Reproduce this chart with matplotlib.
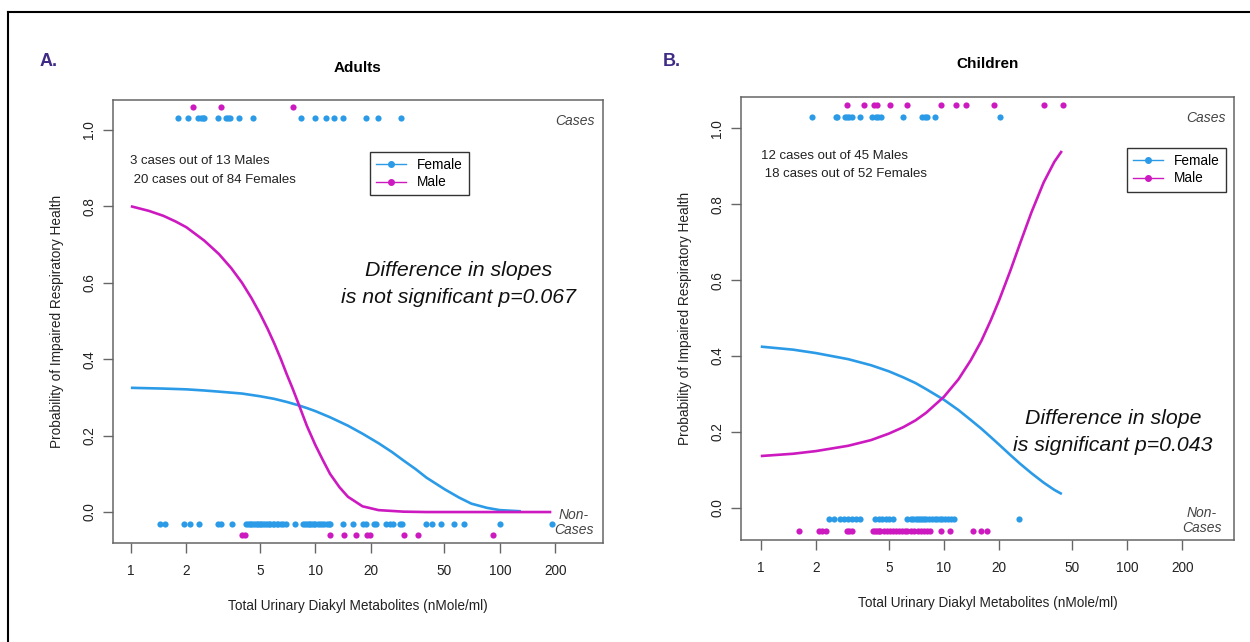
import matplotlib
matplotlib.use('Agg')
import matplotlib.pyplot as plt
from matplotlib.lines import Line2D

plt.rcParams['font.family'] = ['Liberation Sans', 'DejaVu Sans']

# colours
femaleColor = '#2b9be8'
maleColor = '#cc1ac0'
textColor = '#222222'
axisColor = '#666666'

# Adults - metabolite values of individual subjects
adultFemaleCases = [1.81, 2.03, 2.32, 2.40, 2.45, 2.50, 2.98, 3.28, 3.38, 3.45, 3.86, 4.58,
                    8.34, 9.98, 11.45, 12.65, 14.1, 18.8, 21.8, 29.2]
adultMaleCases = [2.18, 3.09, 7.55]
adultFemaleNon = [1.43, 1.53, 1.95, 2.08, 2.35, 2.95, 3.07, 3.53,
                  4.2, 4.3, 4.4, 4.5, 4.6, 4.7, 4.8, 4.9, 5.0, 5.1, 5.2, 5.3, 5.5, 5.6, 5.7, 5.9,
                  6.0, 6.2, 6.3, 6.5, 6.7, 6.9, 7.78,
                  8.6, 8.8, 9.0, 9.2, 9.4, 9.6, 9.8, 10.0, 10.3, 10.6, 10.9, 11.2, 11.5, 11.8, 12.0,
                  14.1, 15.9, 18.2, 18.8, 20.8, 21.4, 24.2, 25.4, 26.3, 28.6, 29.4,
                  39.8, 42.8, 47.9, 56.1, 63.5, 100.4, 191]
adultMaleNon = [4.0, 4.17, 12.0, 14.3, 16.6, 19.0, 19.8, 30.4, 35.8, 91.6]

# Adults - fitted probability curves
adultFemCurveX = [1, 1.5, 2, 2.5, 3, 4, 5, 6, 7, 8, 9, 10, 12, 15, 18, 22, 26, 30, 35, 40, 50, 60,
                  70, 85, 100, 130]
adultFemCurveY = [0.325, 0.323, 0.321, 0.318, 0.315, 0.31, 0.303, 0.296, 0.288, 0.28, 0.272, 0.264,
                  0.248, 0.226, 0.205, 0.18, 0.157, 0.135, 0.112, 0.09, 0.06, 0.038, 0.022,
                  0.011, 0.005, 0.002]
adultMaleCurveX = [1, 1.25, 1.5, 1.75, 2, 2.5, 3, 3.5, 4, 4.5, 5, 5.5, 6, 6.5, 7, 7.5, 8, 9, 10,
                   11, 12, 13.5, 15, 18, 22, 30, 40, 50, 70, 100, 130, 190]
adultMaleCurveY = [0.80, 0.788, 0.775, 0.76, 0.745, 0.71, 0.675, 0.638, 0.60, 0.56, 0.52, 0.48,
                   0.44, 0.40, 0.36, 0.325, 0.29, 0.225, 0.175, 0.135, 0.10, 0.065, 0.04, 0.015,
                   0.005, 0.001, 0, 0, 0, 0, 0, 0]

# Children - metabolite values of individual subjects
childFemaleCases = [1.90, 2.56, 2.62, 2.90, 2.97, 3.05, 3.16, 3.47, 4.03, 4.24, 4.38, 4.51,
                    5.94, 7.61, 7.83, 8.03, 8.91, 20.3]
childMaleCases = [2.97, 3.66, 4.15, 4.32, 5.05, 6.30, 9.69, 11.7, 13.2, 18.7, 35.0, 44.4]
childFemaleNon = [2.36, 2.51, 2.7, 2.85, 3.0, 3.15, 3.3, 3.5, 4.2, 4.4, 4.6, 4.8, 5.0, 5.3,
                  6.3, 6.6, 6.8, 7.0, 7.2, 7.4, 7.6, 7.8, 8.0, 8.3, 8.6, 8.9, 9.2, 9.5, 9.8,
                  10.1, 10.5, 10.9, 11.3, 25.6]
childMaleNon = [1.62, 2.08, 2.17, 2.26, 2.94, 3.03, 3.13,
                4.1, 4.2, 4.3, 4.4, 4.5, 4.7, 4.9, 5.1, 5.3, 5.5, 5.7, 5.9, 6.1, 6.3, 6.6, 6.9,
                7.2, 7.5, 7.8, 8.1, 8.4, 9.69, 10.8, 14.4, 16.0, 17.1]

# Children - fitted probability curves
childCurveX = [1, 1.5, 2, 3, 4, 5, 6, 7, 8, 10, 12, 14, 16, 18, 20, 23, 26, 30, 35, 40, 44]
childFemCurveY = [0.425, 0.417, 0.408, 0.392, 0.376, 0.36, 0.344, 0.329, 0.313, 0.285, 0.258,
                  0.232, 0.209, 0.187, 0.167, 0.14, 0.117, 0.092, 0.067, 0.048, 0.037]
childMaleCurveY = [0.137, 0.143, 0.150, 0.164, 0.179, 0.196, 0.213, 0.231, 0.251, 0.293, 0.339,
                   0.389, 0.44, 0.494, 0.547, 0.624, 0.696, 0.778, 0.857, 0.911, 0.94]

xTicks = [1, 2, 5, 10, 20, 50, 100, 200]
yTicks = [0.0, 0.2, 0.4, 0.6, 0.8, 1.0]
yLabel = 'Probability of Impaired Respiratory Health'
xLabel = 'Total Urinary Diakyl Metabolites (nMole/ml)'


def drawPanel(ax, femCases, maleCases, femNon, maleNon, fx, fy, mx, my, xlim, ylim):
    ax.set_xscale('log')
    ax.plot(fx, fy, color=femaleColor, lw=1.9, solid_capstyle='butt', zorder=3)
    ax.plot(mx, my, color=maleColor, lw=1.9, solid_capstyle='butt', zorder=3)
    ax.scatter(femCases, [1.03] * len(femCases), s=20, color=femaleColor, lw=0, zorder=4)
    ax.scatter(maleCases, [1.06] * len(maleCases), s=20, color=maleColor, lw=0, zorder=4)
    ax.scatter(femNon, [-0.03] * len(femNon), s=20, color=femaleColor, lw=0, zorder=4)
    ax.scatter(maleNon, [-0.06] * len(maleNon), s=20, color=maleColor, lw=0, zorder=4)
    ax.set_xlim(*xlim)
    ax.set_ylim(*ylim)
    ax.set_xticks(xTicks)
    ax.set_xticklabels([str(t) for t in xTicks])
    ax.xaxis.set_minor_locator(plt.NullLocator())
    ax.set_yticks(yTicks)
    ax.set_yticklabels(['%.1f' % t for t in yTicks], rotation=90, va='center')
    ax.tick_params(axis='x', length=7, width=1, color=axisColor, labelcolor=textColor,
                   labelsize=9.8, pad=8)
    ax.tick_params(axis='y', length=7, width=1, color=axisColor, labelcolor=textColor,
                   labelsize=9.8, pad=5)
    for s in ax.spines.values():
        s.set_color(axisColor)
        s.set_linewidth(1.1)
    ax.set_xlabel(xLabel, fontsize=9.8, color=textColor, labelpad=15)
    ax.set_ylabel(yLabel, fontsize=9.8, color=textColor, labelpad=13)
    ax.text(0.984, 0.953, 'Cases', transform=ax.transAxes, ha='right', va='center',
            style='italic', fontsize=10, color='#444444')
    handles = [Line2D([0], [0], color=femaleColor, marker='o', markersize=4, lw=1),
               Line2D([0], [0], color=maleColor, marker='o', markersize=4, lw=1)]
    return handles


fig = plt.figure(figsize=(12.5, 6.42), dpi=100)

# Panel A
axA = fig.add_axes([113 / 1250, 1 - 543 / 642, 490 / 1250, 443 / 642])
h = drawPanel(axA, adultFemaleCases, adultMaleCases, adultFemaleNon, adultMaleNon,
              adultFemCurveX, adultFemCurveY, adultMaleCurveX, adultMaleCurveY,
              (0.80, 362), (-0.081, 1.078))
axA.set_title('Adults', fontsize=11, fontweight='bold', pad=20)
axA.text(0.941, 0.047, 'Non-\nCases', transform=axA.transAxes, ha='center', va='center',
         style='italic', fontsize=10, color='#444444', linespacing=1.1)
axA.text(0.035, 0.862, '3 cases out of 13 Males', transform=axA.transAxes, ha='left',
         va='center', fontsize=9.5, color=textColor)
axA.text(0.035, 0.819, ' 20 cases out of 84 Females', transform=axA.transAxes, ha='left',
         va='center', fontsize=9.5, color=textColor)
axA.text(0.706, 0.585, 'Difference in slopes\nis not significant p=0.067', transform=axA.transAxes,
         ha='center', va='center', style='italic', fontsize=15.3, color='#111111',
         linespacing=1.5)
axA.legend(h, ['Female', 'Male'], loc='upper left', bbox_to_anchor=(0.524, 0.883),
           borderaxespad=0, fancybox=False, edgecolor='#333333', framealpha=1,
           fontsize=9.8, handlelength=2.2, labelspacing=0.25, borderpad=0.45)

# Panel B
axB = fig.add_axes([741 / 1250, 1 - 540 / 642, 493 / 1250, 443 / 642])
h = drawPanel(axB, childFemaleCases, childMaleCases, childFemaleNon, childMaleNon,
              childCurveX, childFemCurveY, childCurveX, childMaleCurveY,
              (0.78, 383), (-0.084, 1.082))
axB.set_title('Children', fontsize=11, fontweight='bold', pad=21)
axB.text(0.935, 0.045, 'Non-\nCases', transform=axB.transAxes, ha='center', va='center',
         style='italic', fontsize=10, color='#444444', linespacing=1.1)
axB.text(0.040, 0.867, '12 cases out of 45 Males', transform=axB.transAxes, ha='left',
         va='center', fontsize=9.5, color=textColor)
axB.text(0.040, 0.826, ' 18 cases out of 52 Females', transform=axB.transAxes, ha='left',
         va='center', fontsize=9.5, color=textColor)
axB.text(0.755, 0.244, 'Difference in slope\nis significant p=0.043', transform=axB.transAxes,
         ha='center', va='center', style='italic', fontsize=15.3, color='#111111',
         linespacing=1.5)
axB.legend(h, ['Female', 'Male'], loc='upper left', bbox_to_anchor=(0.783, 0.885),
           borderaxespad=0, fancybox=False, edgecolor='#333333', framealpha=1,
           fontsize=9.8, handlelength=2.2, labelspacing=0.25, borderpad=0.45)

# panel letters
fig.text(40 / 1250, 1 - 61 / 642, 'A.', fontsize=13, fontweight='bold', color='#3f2a86',
         ha='left', va='center')
fig.text(663 / 1250, 1 - 61 / 642, 'B.', fontsize=13, fontweight='bold', color='#3f2a86',
         ha='left', va='center')

# outer frame
fig.add_artist(Line2D([8 / 1250, 1], [1 - 12 / 642, 1 - 12 / 642], transform=fig.transFigure,
                      color='black', lw=1.5))
fig.add_artist(Line2D([8 / 1250, 8 / 1250], [0, 1 - 12 / 642], transform=fig.transFigure,
                      color='black', lw=1.5))

fig.savefig('out.png', dpi=100)
